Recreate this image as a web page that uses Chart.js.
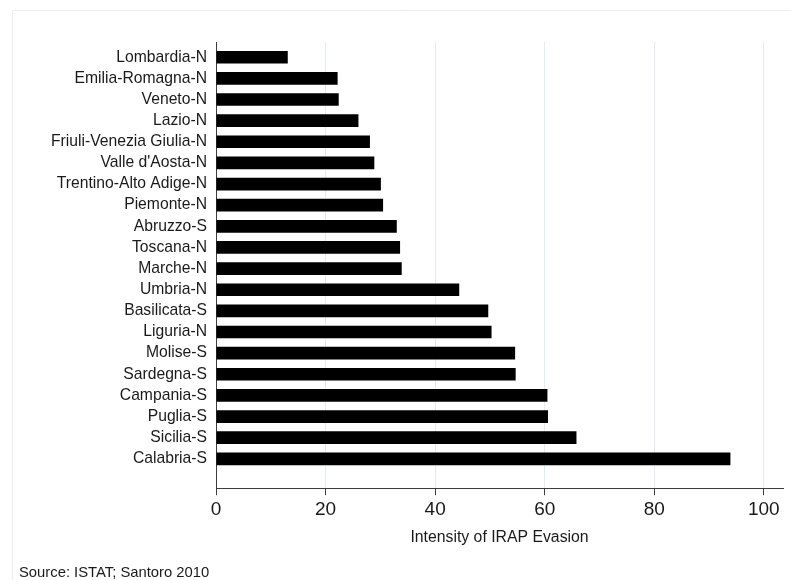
<!DOCTYPE html>
<html>
<head>
<meta charset="utf-8">
<script src="https://cdn.jsdelivr.net/npm/chart.js@4/dist/chart.umd.min.js"></script>
<style>
  html, body { margin: 0; padding: 0; background: #fff; }
  #wrap { width: 791px; height: 580px; }
</style>
</head>
<body>
<div id="wrap"><canvas id="irapChart" width="791" height="580"></canvas></div>
<script>
const regions = [
  'Lombardia-N', 'Emilia-Romagna-N', 'Veneto-N', 'Lazio-N', 'Friuli-Venezia Giulia-N',
  "Valle d'Aosta-N", 'Trentino-Alto Adige-N', 'Piemonte-N', 'Abruzzo-S', 'Toscana-N',
  'Marche-N', 'Umbria-N', 'Basilicata-S', 'Liguria-N', 'Molise-S',
  'Sardegna-S', 'Campania-S', 'Puglia-S', 'Sicilia-S', 'Calabria-S'
];
const evasion = [
  13.1, 22.2, 22.4, 26.0, 28.1,
  28.9, 30.1, 30.5, 33.0, 33.6,
  33.9, 44.4, 49.7, 50.3, 54.6,
  54.7, 60.5, 60.6, 65.8, 93.9
];
const xTicks = [0, 20, 40, 60, 80, 100];

const FONT = "'Liberation Sans', Arial, Helvetica, sans-serif";
const TEXT = '#1a1a1a';
const AXIS = '#3c3c3c';
const GRID = '#e2ebef';

// faint outer frame (left + top edge of the graph region)
const framePlugin = {
  id: 'frame',
  beforeDraw(chart) {
    const ctx = chart.ctx;
    ctx.save();
    ctx.strokeStyle = '#e9eef0';
    ctx.lineWidth = 1;
    ctx.beginPath();
    ctx.moveTo(12.5, 580);
    ctx.lineTo(12.5, 10.5);
    ctx.lineTo(791, 10.5);
    ctx.stroke();
    ctx.restore();
  }
};

new Chart(document.getElementById('irapChart'), {
  type: 'bar',
  data: {
    datasets: [{
      data: evasion.map((v, i) => ({ x: v, y: i })),
      backgroundColor: '#000',
      borderWidth: 0,
      barPercentage: 0.6,
      categoryPercentage: 1
    }]
  },
  options: {
    indexAxis: 'y',
    responsive: false,
    animation: false,
    layout: { padding: { left: 19, right: 8, top: 42, bottom: 0 } },
    plugins: {
      legend: { display: false },
      tooltip: { enabled: false },
      title: {
        display: true,
        position: 'bottom',
        align: 'start',
        text: 'Source: ISTAT; Santoro 2010',
        color: TEXT,
        font: { family: FONT, size: 14.8, weight: 'normal', lineHeight: 1 },
        padding: { top: 18, bottom: 0 }
      }
    },
    scales: {
      x: {
        type: 'linear',
        min: 0,
        max: 103.5,
        afterBuildTicks: (scale) => { scale.ticks = xTicks.map(v => ({ value: v })); },
        afterFit: (scale) => { scale.height = 59; },
        grid: { color: GRID, lineWidth: 1, tickColor: AXIS, tickLength: 7, drawTicks: true },
        border: { display: true, color: AXIS, width: 1 },
        ticks: { color: TEXT, font: { family: FONT, size: 19 }, padding: 3, maxRotation: 0 },
        title: {
          display: true,
          text: 'Intensity of IRAP Evasion',
          color: TEXT,
          font: { family: FONT, size: 15.8 },
          padding: { top: 0, bottom: 0 }
        }
      },
      y: {
        type: 'linear',
        reverse: true,
        offset: false,
        min: -0.72,
        max: 20.39,
        afterBuildTicks: (scale) => { scale.ticks = regions.map((_, i) => ({ value: i })); },
        afterFit: (scale) => { scale.width = 197; },
        grid: { display: false, offset: false, drawTicks: false, tickLength: 0 },
        border: { display: true, color: AXIS, width: 1 },
        ticks: {
          autoSkip: false,
          color: TEXT,
          font: { family: FONT, size: 15.7 },
          padding: 9,
          callback: (v) => regions[v]
        }
      }
    }
  },
  plugins: [framePlugin]
});
</script>
</body>
</html>
